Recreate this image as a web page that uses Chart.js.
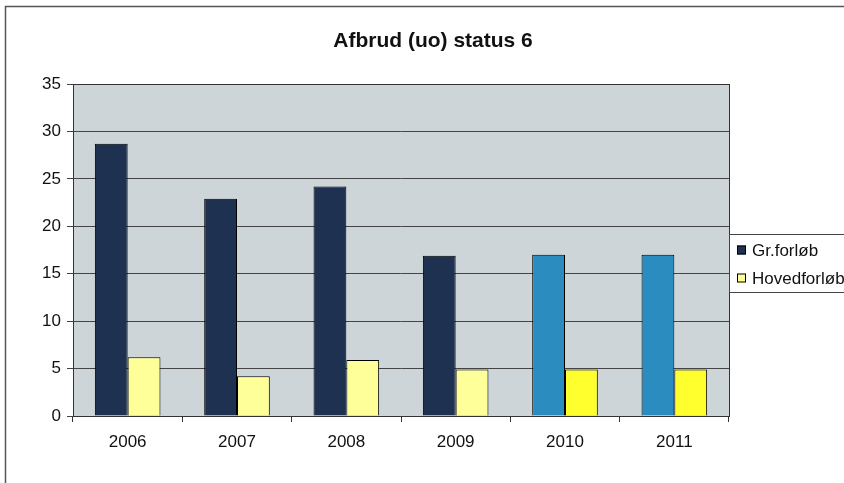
<!DOCTYPE html>
<html>
<head>
<meta charset="utf-8">
<script src="https://cdn.jsdelivr.net/npm/chart.js@4"></script>
<style>
  html, body { margin: 0; padding: 0; background: #fff; }
  #wrap { width: 844px; height: 483px; position: relative; }
</style>
</head>
<body>
<div id="wrap"><canvas id="myChart" width="844" height="483"></canvas></div>
<script>
const years = ['2006', '2007', '2008', '2009', '2010', '2011'];
const grForlob = [28.7, 22.9, 24.2, 16.9, 17.0, 17.0];
const hovedForlob = [6.2, 4.2, 5.9, 4.9, 4.9, 4.9];
const yTicks = [0, 5, 10, 15, 20, 25, 30, 35];
const titleText = 'Afbrud (uo) status 6';
const seriesNames = ['Gr.forløb', 'Hovedforløb'];

const grColors = ['#1e3150', '#1e3150', '#1e3150', '#1e3150', '#2b8cc0', '#2b8cc0'];
const hovedColors = ['#ffff99', '#ffff99', '#ffff99', '#ffff99', '#ffff2e', '#ffff2e'];

// plot background, frame, title, legend box
const decor = {
    id: 'decor',
    beforeDraw(chart) {
        const c = chart.ctx;
        const a = chart.chartArea;
        c.save();
        c.fillStyle = '#fff';
        c.fillRect(0, 0, chart.width, chart.height);
        c.fillStyle = '#cdd5d9';
        c.fillRect(a.left, a.top, a.right - a.left, a.bottom - a.top);
        // outer chart border (left and top only visible)
        c.strokeStyle = '#555';
        c.lineWidth = 1.5;
        c.beginPath();
        c.moveTo(5.5, chart.height);
        c.lineTo(5.5, 6.5);
        c.lineTo(chart.width, 6.5);
        c.stroke();
        c.restore();
    },
    afterDatasetsDraw(chart) {
        const c = chart.ctx;
        const a = chart.chartArea;
        c.save();
        c.strokeStyle = '#333';
        c.lineWidth = 1;
        c.strokeRect(a.left + 0.5, a.top + 0.5, a.right - a.left, a.bottom - a.top);
        // title
        c.fillStyle = '#111';
        c.font = 'bold 21px "Liberation Sans", Arial, sans-serif';
        c.textAlign = 'center';
        c.textBaseline = 'middle';
        c.fillText(titleText, 433, 41);
        // legend
        c.fillStyle = '#fff';
        c.fillRect(729, 234, 120, 58);
        c.strokeStyle = '#444';
        c.strokeRect(729.5, 234.5, 120, 58);
        c.font = '17px "Liberation Sans", Arial, sans-serif';
        c.textAlign = 'left';
        const sw = [grColors[0], hovedColors[0]];
        for (let i = 0; i < seriesNames.length; i++) {
            const cy = 250 + i * 28;
            c.fillStyle = sw[i];
            c.fillRect(737, cy - 4.5, 9, 9);
            c.strokeStyle = '#000';
            c.strokeRect(737.5, cy - 4, 8, 8);
            c.fillStyle = '#111';
            c.fillText(seriesNames[i], 752, cy + 1);
        }
        c.restore();
    }
};

const ctx = document.getElementById('myChart').getContext('2d');
const myChart = new Chart(ctx, {
    type: 'bar',
    data: {
        labels: years,
        datasets: [{
            label: seriesNames[0],
            data: grForlob,
            backgroundColor: grColors,
            borderColor: '#000',
            borderWidth: 1,
            borderSkipped: 'bottom'
        }, {
            label: seriesNames[1],
            data: hovedForlob,
            backgroundColor: hovedColors,
            borderColor: '#000',
            borderWidth: 1,
            borderSkipped: 'bottom'
        }]
    },
    options: {
        responsive: false,
        animation: false,
        layout: { padding: { left: 0, right: 115, top: 84, bottom: 0 } },
        datasets: { bar: { categoryPercentage: 0.6, barPercentage: 1.0 } },
        plugins: {
            legend: { display: false },
            title: { display: false },
            tooltip: { enabled: false }
        },
        scales: {
            x: {
                afterFit: s => { s.height = 67; },
                grid: { offset: true, drawOnChartArea: false, tickLength: 6, color: '#333' },
                border: { color: '#333' },
                ticks: {
                    color: '#111',
                    font: { size: 17, family: '"Liberation Sans", Arial, sans-serif' },
                    padding: 10
                }
            },
            y: {
                min: 0,
                max: 35,
                afterFit: s => { s.width = 73; },
                afterBuildTicks: s => { s.ticks = yTicks.map(v => ({ value: v })); },
                grid: { color: '#444', tickLength: 6 },
                border: { color: '#333' },
                ticks: {
                    color: '#111',
                    font: { size: 17, family: '"Liberation Sans", Arial, sans-serif' },
                    padding: 6
                }
            }
        }
    },
    plugins: [decor]
});
</script>
</body>
</html>
